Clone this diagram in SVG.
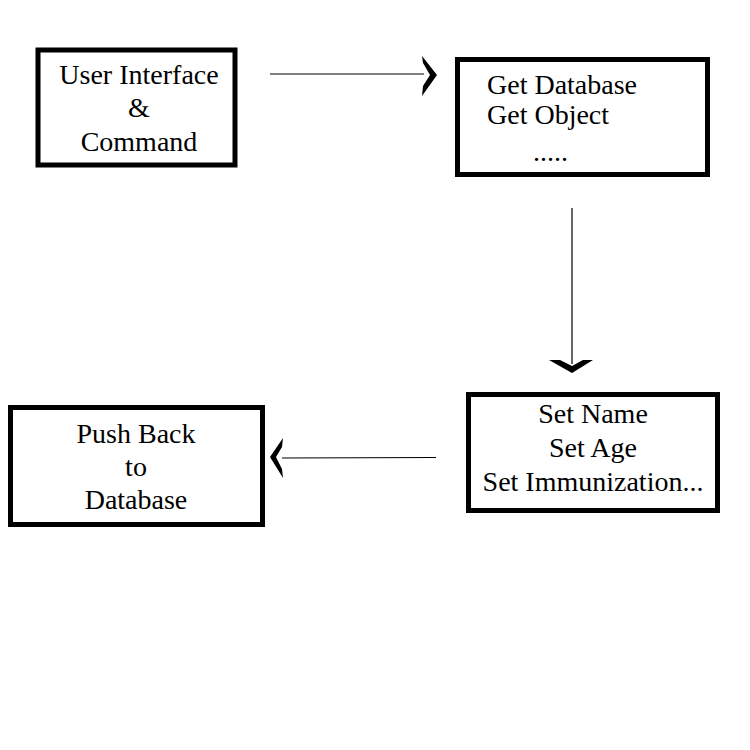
<svg xmlns="http://www.w3.org/2000/svg" width="750" height="750" viewBox="0 0 750 750">
<style>
.box{fill:#fff;stroke:#000;stroke-width:5}
.t{font-family:"Liberation Serif","Times New Roman",serif;font-size:28px;fill:#000}
.c{text-anchor:middle}
.ln{stroke:#000;stroke-width:1.2;fill:none}
.head{fill:#000}
</style>
<rect width="750" height="750" fill="#fff"/>
<g id="connectors">
<line class="ln" x1="270" y1="74" x2="424" y2="74"/>
<polygon class="head" points="422,56 437,75 422,96 423,86 430,75 423,63"/>
<line class="ln" x1="572" y1="208" x2="572" y2="364"/>
<polygon class="head" points="549,360 572,373 593,360 583,360 572,366 560,360"/>
<line class="ln" x1="436" y1="457.5" x2="282" y2="458"/>
<polygon class="head" points="283,438 270,457 283,478 282,469 276,457 282,447"/>
</g>
<g id="node-ui">
<rect class="box" x="38" y="50" width="197" height="115"/>
<text class="t c" x="139" y="84">User Interface</text>
<text class="t c" x="139" y="117">&amp;</text>
<text class="t c" x="139" y="151">Command</text>
</g>
<g id="node-get">
<rect class="box" x="457.5" y="59.5" width="250" height="115"/>
<text class="t" x="487" y="94">Get Database</text>
<text class="t" x="487" y="124">Get Object</text>
<text class="t" x="533" y="161">.....</text>
</g>
<g id="node-set">
<rect class="box" x="468.5" y="394.5" width="249" height="116"/>
<text class="t c" x="593" y="423">Set Name</text>
<text class="t c" x="593" y="457">Set Age</text>
<text class="t c" x="593" y="491">Set Immunization...</text>
</g>
<g id="node-push">
<rect class="box" x="10.5" y="407.5" width="252" height="117"/>
<text class="t c" x="136" y="443">Push Back</text>
<text class="t c" x="136" y="476">to</text>
<text class="t c" x="136" y="509">Database</text>
</g>
</svg>
